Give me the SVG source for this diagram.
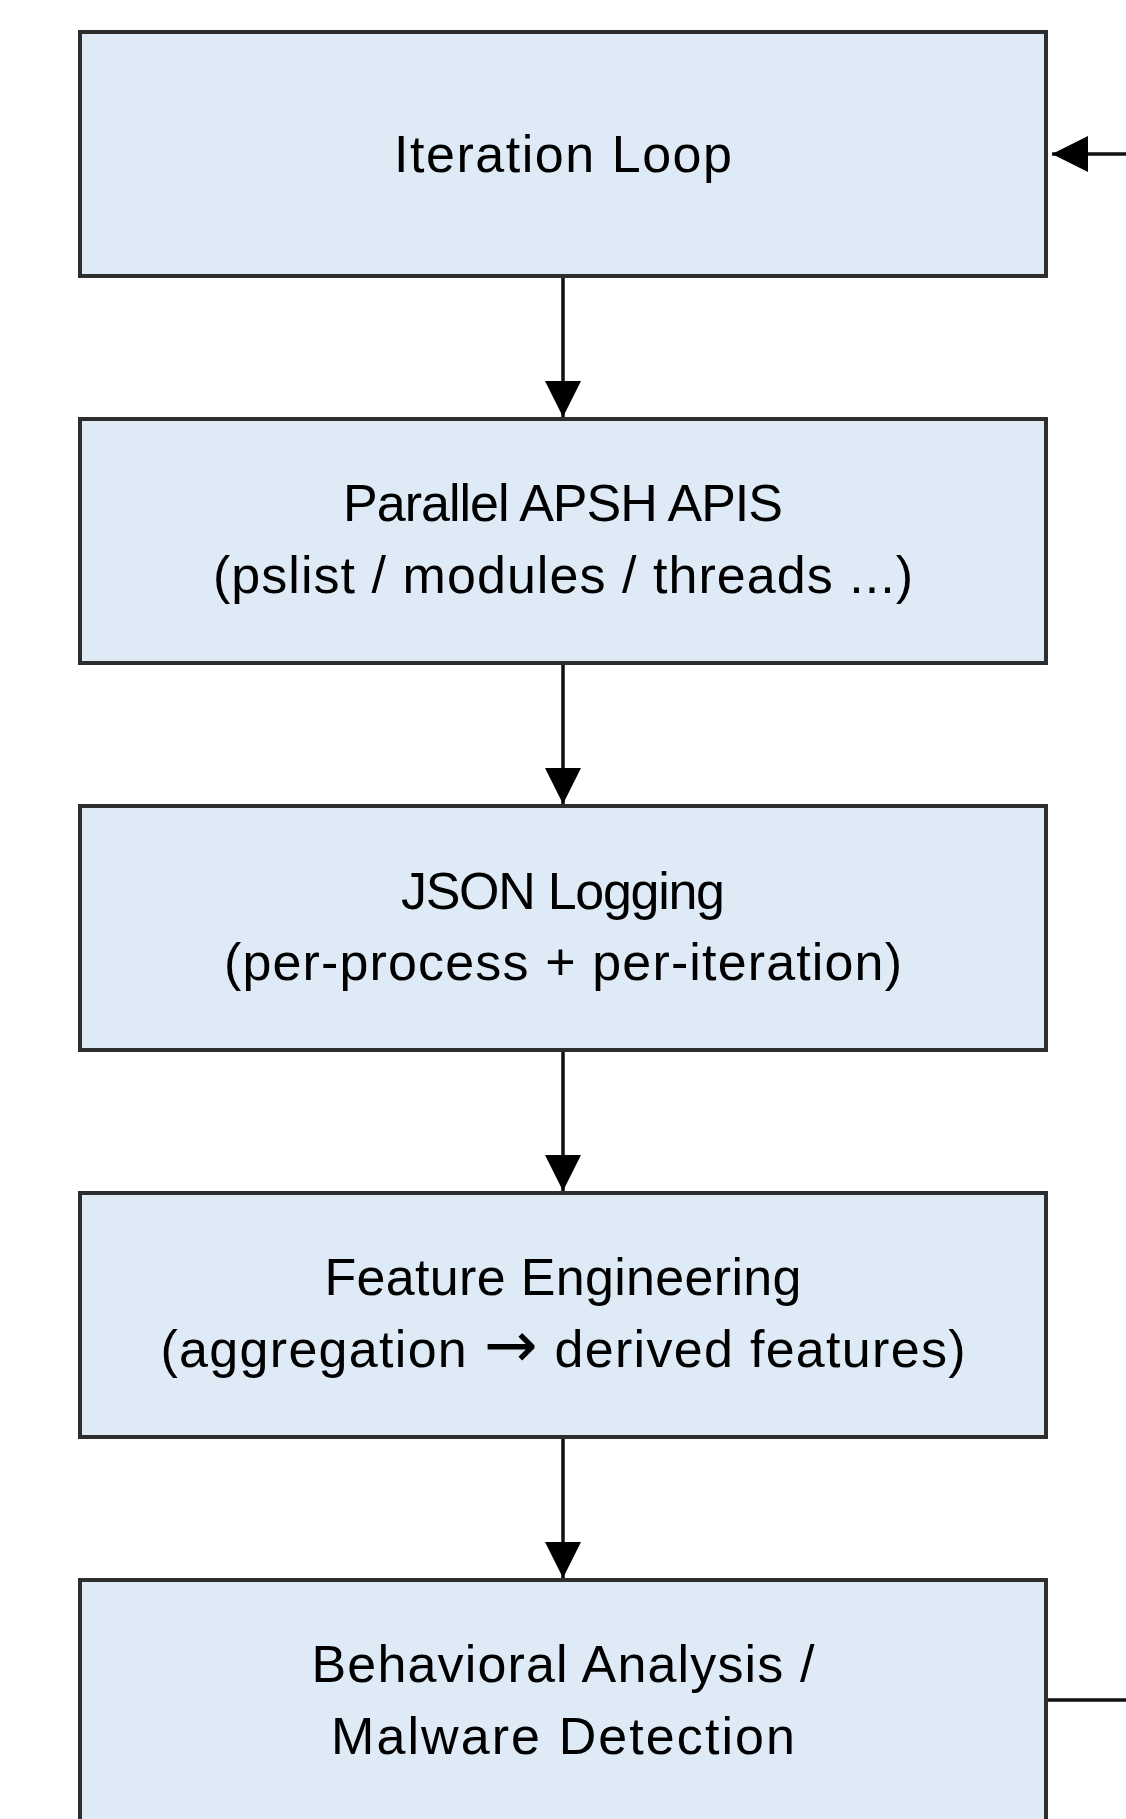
<svg xmlns="http://www.w3.org/2000/svg" width="1126" height="1819" viewBox="0 0 1126 1819">
  <style>
    .box { fill: #DEEAF6; stroke: #2e2e2e; stroke-width: 4; }
    .lbl { font-family: "Liberation Sans", Arial, sans-serif; font-size: 52px; fill: #000000; text-anchor: middle; }
    .sym { font-family: "DejaVu Sans", sans-serif; font-size: 64px; }
    .conn { fill: none; stroke: #111111; stroke-width: 3.5; }
  </style>
  <defs>
    <marker id="arrow" viewBox="0 0 36 36" refX="36" refY="18" markerWidth="36" markerHeight="36" markerUnits="userSpaceOnUse" orient="auto">
      <path d="M0,0 L36,18 L0,36 z" fill="#000000"/>
    </marker>
  </defs>
  <rect width="1126" height="1819" fill="#FFFFFF"/>

  <g id="connectors">
    <path class="conn" d="M563,278 V417" marker-end="url(#arrow)"/>
    <path class="conn" d="M563,665 V804" marker-end="url(#arrow)"/>
    <path class="conn" d="M563,1052 V1191" marker-end="url(#arrow)"/>
    <path class="conn" d="M563,1439 V1578" marker-end="url(#arrow)"/>
    <path class="conn" d="M1048,1700 H1160 V154 H1052" marker-end="url(#arrow)"/>
  </g>

  <g id="node-iteration-loop">
    <rect class="box" x="80" y="32" width="966" height="244"/>
    <text class="lbl" x="563" y="172" textLength="338" lengthAdjust="spacing">Iteration Loop</text>
  </g>

  <g id="node-parallel-apis">
    <rect class="box" x="80" y="419" width="966" height="244"/>
    <text class="lbl" x="563" y="521" textLength="440" lengthAdjust="spacing">Parallel APSH APIS</text>
    <text class="lbl" x="563" y="593" textLength="700" lengthAdjust="spacing">(pslist / modules / threads ...)</text>
  </g>

  <g id="node-json-logging">
    <rect class="box" x="80" y="806" width="966" height="244"/>
    <text class="lbl" x="563" y="909" textLength="324" lengthAdjust="spacing">JSON Logging</text>
    <text class="lbl" x="563" y="980" textLength="678" lengthAdjust="spacing">(per-process + per-iteration)</text>
  </g>

  <g id="node-feature-engineering">
    <rect class="box" x="80" y="1193" width="966" height="244"/>
    <text class="lbl" x="563" y="1295" textLength="477" lengthAdjust="spacing">Feature Engineering</text>
    <text class="lbl" x="563" y="1367" textLength="805" lengthAdjust="spacing">(aggregation <tspan class="sym">→</tspan> derived features)</text>
  </g>

  <g id="node-behavioral-analysis">
    <rect class="box" x="80" y="1580" width="966" height="244"/>
    <text class="lbl" x="563" y="1682" textLength="503" lengthAdjust="spacing">Behavioral Analysis /</text>
    <text class="lbl" x="563" y="1754" textLength="464" lengthAdjust="spacing">Malware Detection</text>
  </g>
</svg>
